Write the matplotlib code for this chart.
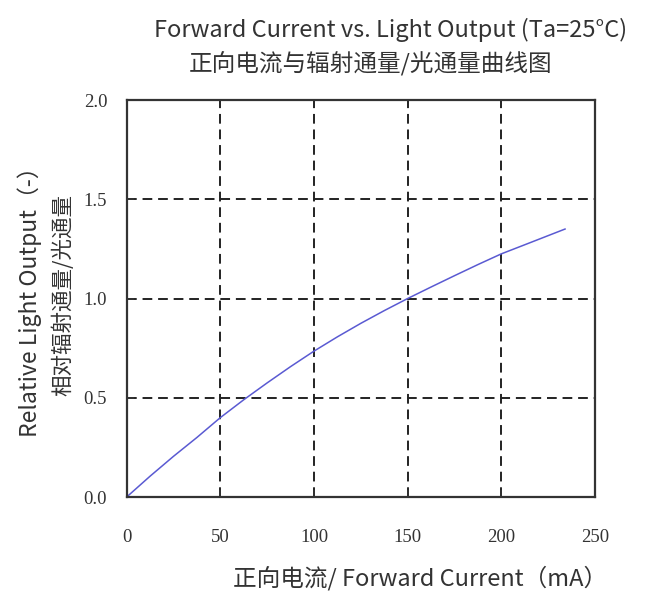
import matplotlib
matplotlib.use("Agg")
import matplotlib.pyplot as plt

plt.rcParams['font.family'] = ['Noto Sans CJK SC', 'DejaVu Sans']

# values
current_ma = [0, 12.5, 25, 37.5, 50, 62.5, 75, 87.5, 100, 112.5, 125,
              137.5, 150, 162.5, 175, 187.5, 200, 215, 234]
rel_output = [0.0, 0.105, 0.205, 0.30, 0.40, 0.49, 0.575, 0.657, 0.735, 0.807, 0.875,
              0.939, 1.0, 1.058, 1.115, 1.171, 1.225, 1.28, 1.35]

x_ticks = [0, 50, 100, 150, 200, 250]
y_ticks = [0.0, 0.5, 1.0, 1.5, 2.0]

title_en = "Forward Current vs. Light Output (Ta=25°C)"
title_cn = "正向电流与辐射通量/光通量曲线图"
ylabel_en = "Relative Light Output（-）"
ylabel_cn = "相对辐射通量/光通量"
xlabel = "正向电流/ Forward Current（mA）"

fig = plt.figure(figsize=(6.54, 5.95), dpi=100)
ax = fig.add_axes([0.1937, 0.1647, 0.7161, 0.6672])

ax.plot(current_ma, rel_output, color='#5a5ad2', linewidth=1.1)

ax.set_xlim(0, 250)
ax.set_ylim(0, 2.0)
ax.set_xticks(x_ticks)
ax.set_yticks(y_ticks)
ax.set_xticklabels([str(v) for v in x_ticks], family='Liberation Serif', fontsize=13.5, color='#333333')
ax.set_yticklabels([f"{v:.1f}" for v in y_ticks], family='Liberation Serif', fontsize=13.5, color='#333333')
ax.tick_params(axis='x', direction='in', length=5, width=1.2, color='#333333', pad=23)
ax.tick_params(axis='y', direction='in', length=5, width=1.2, color='#333333', pad=14)

ax.grid(True, linestyle=(0, (5, 3)), color='#222222', linewidth=1.4)
for s in ax.spines.values():
    s.set_linewidth(1.6)
    s.set_color('#333333')

fig.text(0.597, 0.950, title_en, ha='center', va='center', fontsize=17, color='#333333')
fig.text(0.566, 0.892, title_cn, ha='center', va='center', fontsize=17, color='#333333')
fig.text(0.643, 0.028, xlabel, ha='center', va='center', fontsize=17, color='#333333')
fig.text(0.046, 0.503, ylabel_en, ha='center', va='center', rotation=90, fontsize=16.5, color='#333333')
fig.text(0.097, 0.505, ylabel_cn, ha='center', va='center', rotation=90, fontsize=15.5, color='#333333')

fig.savefig('out.png', dpi=100, facecolor='white')
